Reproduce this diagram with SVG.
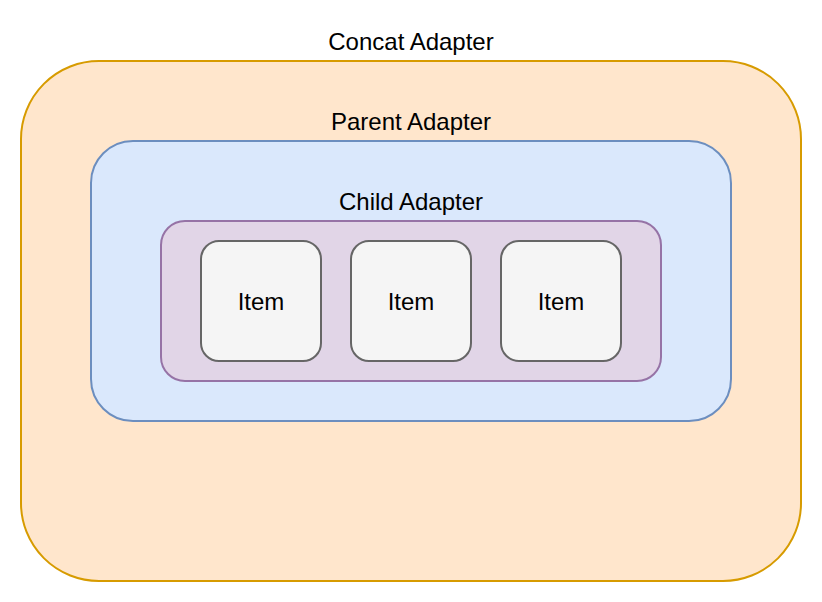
<svg xmlns="http://www.w3.org/2000/svg" width="822" height="602" viewBox="0 0 822 602">
<style>
text{font-family:"Liberation Sans",Arial,sans-serif;font-size:24px;fill:#000;text-anchor:middle}
.item rect{fill:#f5f5f5;stroke:#666666;stroke-width:2}
</style>
<rect width="822" height="602" fill="#ffffff"/>
<g id="concat">
<rect x="21" y="61" width="780" height="520" rx="78" ry="78" fill="#ffe6cc" stroke="#d79b00" stroke-width="2"/>
<text x="411" y="50">Concat Adapter</text>
</g>
<g id="parent">
<rect x="91" y="141" width="640" height="280" rx="42" ry="42" fill="#dae8fc" stroke="#6c8ebf" stroke-width="2"/>
<text x="411" y="130">Parent Adapter</text>
</g>
<g id="child">
<rect x="161" y="221" width="500" height="160" rx="24" ry="24" fill="#e1d5e7" stroke="#9673a6" stroke-width="2"/>
<text x="411" y="210">Child Adapter</text>
</g>
<g id="item1" class="item">
<rect x="201" y="241" width="120" height="120" rx="18" ry="18"/>
<text x="261" y="310">Item</text>
</g>
<g id="item2" class="item">
<rect x="351" y="241" width="120" height="120" rx="18" ry="18"/>
<text x="411" y="310">Item</text>
</g>
<g id="item3" class="item">
<rect x="501" y="241" width="120" height="120" rx="18" ry="18"/>
<text x="561" y="310">Item</text>
</g>
<g id="connectors"></g>
</svg>
